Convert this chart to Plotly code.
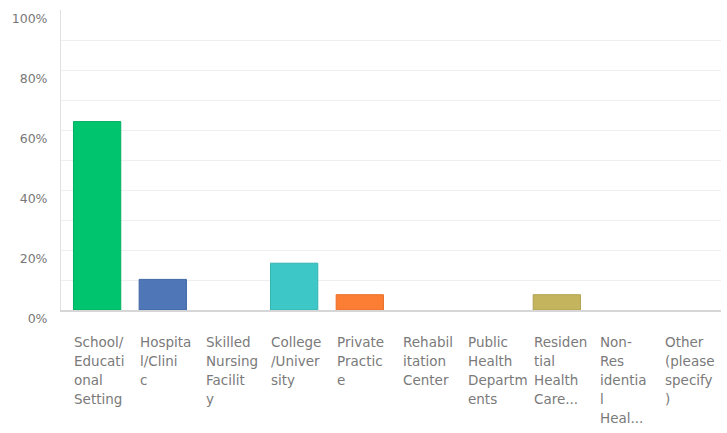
import plotly.graph_objects as go

categories = [
    ["School/", "Educati", "onal", "Setting"],
    ["Hospita", "l/Clini", "c"],
    ["Skilled", "Nursing", "Facilit", "y"],
    ["College", "/Univer", "sity"],
    ["Private", "Practic", "e"],
    ["Rehabil", "itation", "Center"],
    ["Public", "Health", "Departm", "ents"],
    ["Residen", "tial", "Health", "Care..."],
    ["Non-", "Res", "identia", "l", "Heal..."],
    ["Other", "(please", "specify", ")"],
]
values = [62.8, 10.2, 0, 15.6, 5.1, 0, 0, 5.1, 0, 0]
colors = ["#00C46E", "#4F77B8", "#00C46E", "#3EC7C7", "#FB7E34",
          "#D0CA78", "#8C6FB0", "#C5B45E", "#5D6FA8", "#9A9A9A"]
line_colors = ["#00B062", "#3F66A6", "#00B062", "#33B3B3", "#E86E28",
               "#B8B06A", "#7A5E9E", "#B2A250", "#4E5F98", "#888888"]
yticks = [0, 20, 40, 60, 80, 100]
ytick_labels = ["0%", "20%", "40%", "60%", "80%", "100%"]

FONT = "DejaVu Sans, sans-serif"
x = list(range(len(values)))
fig = go.Figure(go.Bar(
    x=x, y=values, width=0.72,
    marker=dict(color=colors,
                line=dict(color=line_colors, width=[1 if v > 0 else 0 for v in values])),
    hoverinfo="skip",
))

plot_h = 300
annotations = []
for i, lines in enumerate(categories):
    for j, ln in enumerate(lines):
        annotations.append(dict(
            x=i - 0.38, xref="x", xanchor="left",
            y=(-32 - j * 19) / plot_h, yref="paper", yanchor="middle",
            text=ln, showarrow=False,
            font=dict(family=FONT, size=13.5, color="#7a7a7a"),
            align="left",
        ))

fig.update_layout(
    width=727, height=433,
    margin=dict(l=61, r=6, t=10, b=123),
    paper_bgcolor="white", plot_bgcolor="white",
    showlegend=False,
    annotations=annotations,
    xaxis=dict(
        range=[-0.55, 9.5], tickvals=x, ticktext=[""] * len(x),
        showgrid=False, zeroline=False, showline=True,
        linecolor="#d6d6d6", linewidth=1.5, ticks="", fixedrange=True,
    ),
    yaxis=dict(
        range=[0, 100], tickvals=yticks, ticktext=ytick_labels,
        showgrid=True, gridcolor="#efefef", gridwidth=1,
        minor=dict(dtick=10, showgrid=True, gridcolor="#efefef", gridwidth=1),
        zeroline=False, showline=True, linecolor="#e2e2e2", linewidth=1,
        ticks="", ticklabelstandoff=10, ticklabelshift=9,
        tickfont=dict(family=FONT, size=12.5, color="#777777"),
        fixedrange=True,
    ),
)

fig.write_html("out.html")
